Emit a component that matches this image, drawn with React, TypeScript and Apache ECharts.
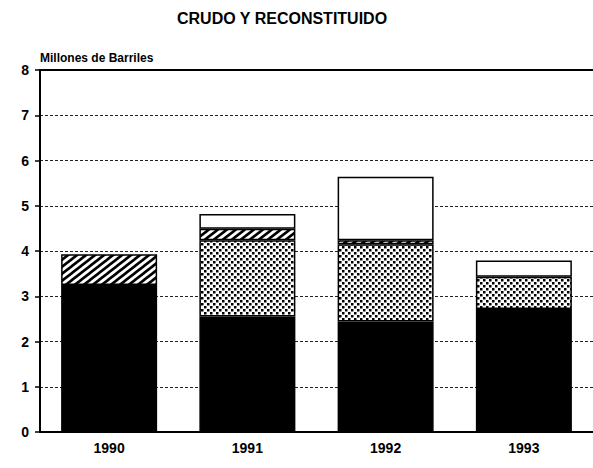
import React, { useEffect, useRef } from "react";
import * as echarts from "echarts";

const years = ["1990", "1991", "1992", "1993"];
const crudo = [3.25, 2.55, 2.44, 2.72];
const punteado = [0, 1.69, 1.71, 0.71];
const rayado = [0.68, 0.25, 0.09, 0];
const blanco = [0, 0.33, 1.4, 0.36];
const yTicks = [0, 1, 2, 3, 4, 5, 6, 7, 8];

function dotTile() {
  const s = 6;
  const c = document.createElement("canvas");
  c.width = s;
  c.height = s;
  const g = c.getContext("2d")!;
  g.fillStyle = "#ffffff";
  g.fillRect(0, 0, s, s);
  g.fillStyle = "#000000";
  g.fillRect(0, 0, 2.5, 2.5);
  g.fillRect(3, 3, 2.5, 2.5);
  return c;
}

function hatchTile() {
  const w = 9;
  const h = 7;
  const c = document.createElement("canvas");
  c.width = w;
  c.height = h;
  const g = c.getContext("2d")!;
  g.fillStyle = "#ffffff";
  g.fillRect(0, 0, w, h);
  g.strokeStyle = "#000000";
  g.lineWidth = 2.6;
  g.lineCap = "butt";
  g.beginPath();
  const a = 0.5;
  for (const dx of [-w, 0, w]) {
    g.moveTo(dx - a * w, h + a * h);
    g.lineTo(dx + w + a * w, -a * h);
  }
  g.stroke();
  return c;
}

const noZero = (arr: number[]) => arr.map((v) => (v === 0 ? "-" : v));

export default function App() {
  const ref = useRef<HTMLDivElement>(null);
  useEffect(() => {
    if (!ref.current) return;
    const chart = echarts.init(ref.current, null, { renderer: "svg" });
    const font = "'Liberation Sans', Arial, Helvetica, sans-serif";
    const dots = { image: dotTile(), repeat: "repeat", imageWidth: 6, imageHeight: 6 } as any;
    const hatch = { image: hatchTile(), repeat: "repeat", imageWidth: 9, imageHeight: 7 } as any;
    const border = { borderColor: "#000", borderWidth: 1.5 };
    const mk = (name: string, data: number[], color: any) => ({
      name,
      type: "bar",
      stack: "total",
      barWidth: 96,
      data: noZero(data),
      itemStyle: { color, ...border },
    });
    chart.setOption({
      animation: false,
      backgroundColor: "#ffffff",
      title: {
        text: "CRUDO Y RECONSTITUIDO",
        left: 172,
        top: 5,
        textStyle: { fontFamily: font, fontWeight: "bold", fontSize: 16, color: "#000" },
      },
      grid: { left: 40, right: -5, top: 70, bottom: 36 },
      xAxis: [
        {
          type: "category",
          data: years,
          position: "bottom",
          axisLine: { lineStyle: { color: "#000", width: 2 } },
          axisTick: { alignWithLabel: true, length: 6, lineStyle: { color: "#000", width: 1.5 } },
          axisLabel: { color: "#000", fontFamily: font, fontWeight: "bold", fontSize: 14, margin: 9 },
        },
        {
          type: "category",
          data: years,
          position: "top",
          axisLine: { lineStyle: { color: "#000", width: 2 } },
          axisTick: { show: false },
          axisLabel: { show: false },
        },
      ],
      yAxis: {
        type: "value",
        min: yTicks[0],
        max: yTicks[yTicks.length - 1],
        interval: 1,
        name: "Millones de Barriles",
        nameLocation: "end",
        nameGap: 6,
        nameTextStyle: {
          align: "left",
          verticalAlign: "bottom",
          fontFamily: font,
          fontWeight: "bold",
          fontSize: 12,
          color: "#000",
        },
        axisLine: { show: true, lineStyle: { color: "#000", width: 2 } },
        axisTick: { show: true, length: 5, lineStyle: { color: "#000", width: 1.5 } },
        axisLabel: { color: "#000", fontFamily: font, fontWeight: "bold", fontSize: 14, margin: 11 },
        splitLine: { show: true, lineStyle: { color: "#222", width: 1.2, type: [3, 2] } },
      },
      series: [
        mk("Crudo", crudo, "#000000"),
        mk("Punteado", punteado, dots),
        mk("Rayado", rayado, hatch),
        mk("Reconstituido", blanco, "#ffffff"),
      ],
    });
    return () => chart.dispose();
  }, []);
  return (
    <div
      ref={ref}
      style={{ position: "fixed", left: 0, top: 0, width: 593, height: 468, background: "#fff" }}
    />
  );
}
